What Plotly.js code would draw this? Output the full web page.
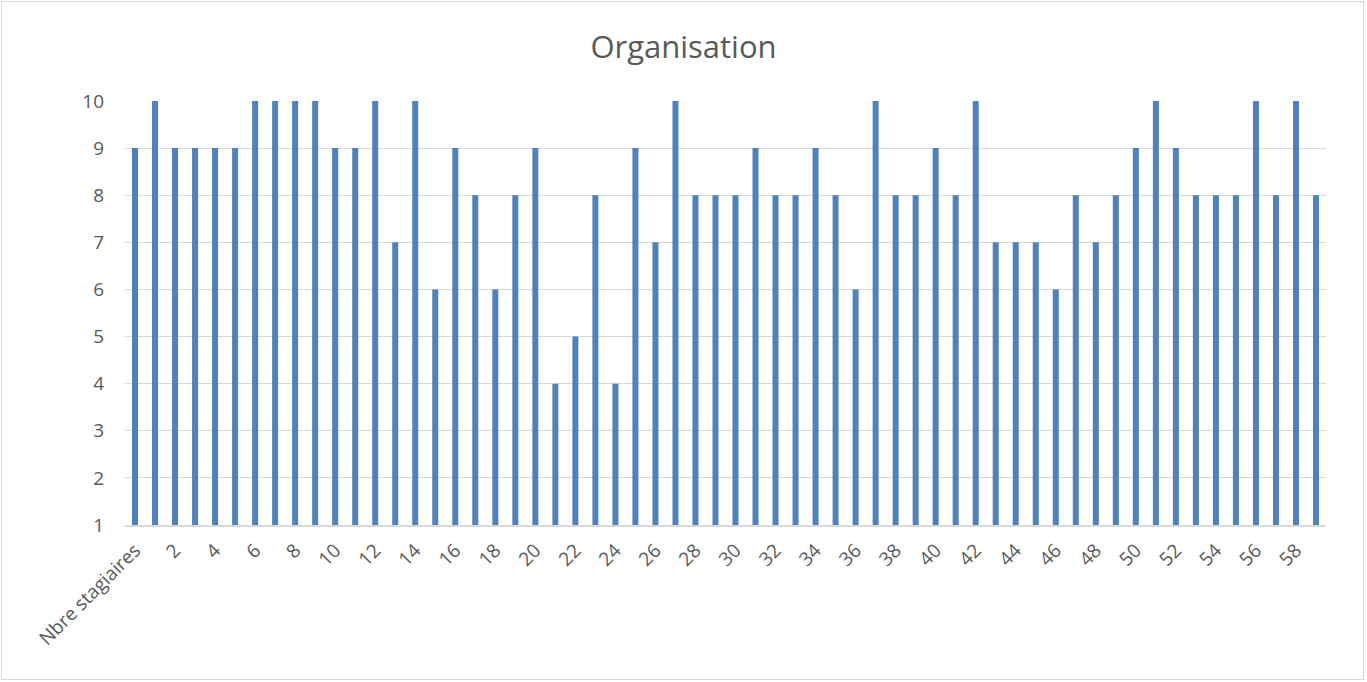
<!DOCTYPE html>
<html>
<head>
<meta charset="utf-8">
<script src="https://cdn.plot.ly/plotly-3.0.1.min.js"></script>
<style>
html,body{margin:0;padding:0;background:#fff;}
#wrap{position:relative;width:1367px;height:682px;}
#chart{width:1367px;height:682px;}
#frame{position:absolute;left:1px;top:1px;width:1361px;height:677px;border:1px solid #d9d9d9;pointer-events:none;}
</style>
</head>
<body>
<div id="wrap"><div id="chart"></div><div id="frame"></div></div>
<script>
const categories = ["Nbre stagiaires","1","2","3","4","5","6","7","8","9","10","11","12","13","14","15","16","17","18","19","20","21","22","23","24","25","26","27","28","29","30","31","32","33","34","35","36","37","38","39","40","41","42","43","44","45","46","47","48","49","50","51","52","53","54","55","56","57","58","59"];
const values = [9,10,9,9,9,9,10,10,10,10,9,9,10,7,10,6,9,8,6,8,9,4,5,8,4,9,7,10,8,8,8,9,8,8,9,8,6,10,8,8,9,8,10,7,7,7,6,8,7,8,9,10,9,8,8,8,10,8,10,8];
const tickLabels = categories.filter((c,i)=>i%2===0);
const yTicks = [1,2,3,4,5,6,7,8,9,10];

Plotly.newPlot('chart',[{
  type:'bar',
  x:categories,
  y:values,
  marker:{color:'#4F81BD'},
  width:0.3,
  hoverinfo:'x+y'
}],{
  width:1367,height:682,
  margin:{l:125,r:41,t:101,b:157},
  paper_bgcolor:'#ffffff',plot_bgcolor:'#ffffff',
  title:{text:'Organisation',x:0.5,xanchor:'center',y:0.931,yanchor:'middle',
    font:{family:'Open Sans, sans-serif',size:31,color:'#595959'}},
  font:{family:'Open Sans, sans-serif',color:'#595959'},
  xaxis:{type:'category',tickmode:'array',tickvals:tickLabels,ticktext:tickLabels,
    tickangle:-45,tickfont:{size:19,color:'#595959'},showgrid:false,
    showline:true,linecolor:'#d9d9d9',linewidth:1.5,ticks:'',zeroline:false,
    range:[-0.5,59.5],ticklabelstandoff:5},
  yaxis:{range:[1,10],tickmode:'array',tickvals:yTicks,ticktext:yTicks.map(String),
    tickfont:{size:19,color:'#595959'},gridcolor:'#d9d9d9',gridwidth:1,
    zeroline:false,showline:false,ticks:'',ticklabelstandoff:20},
  showlegend:false,bargap:0.7
},{displayModeBar:false});
</script>
</body>
</html>
